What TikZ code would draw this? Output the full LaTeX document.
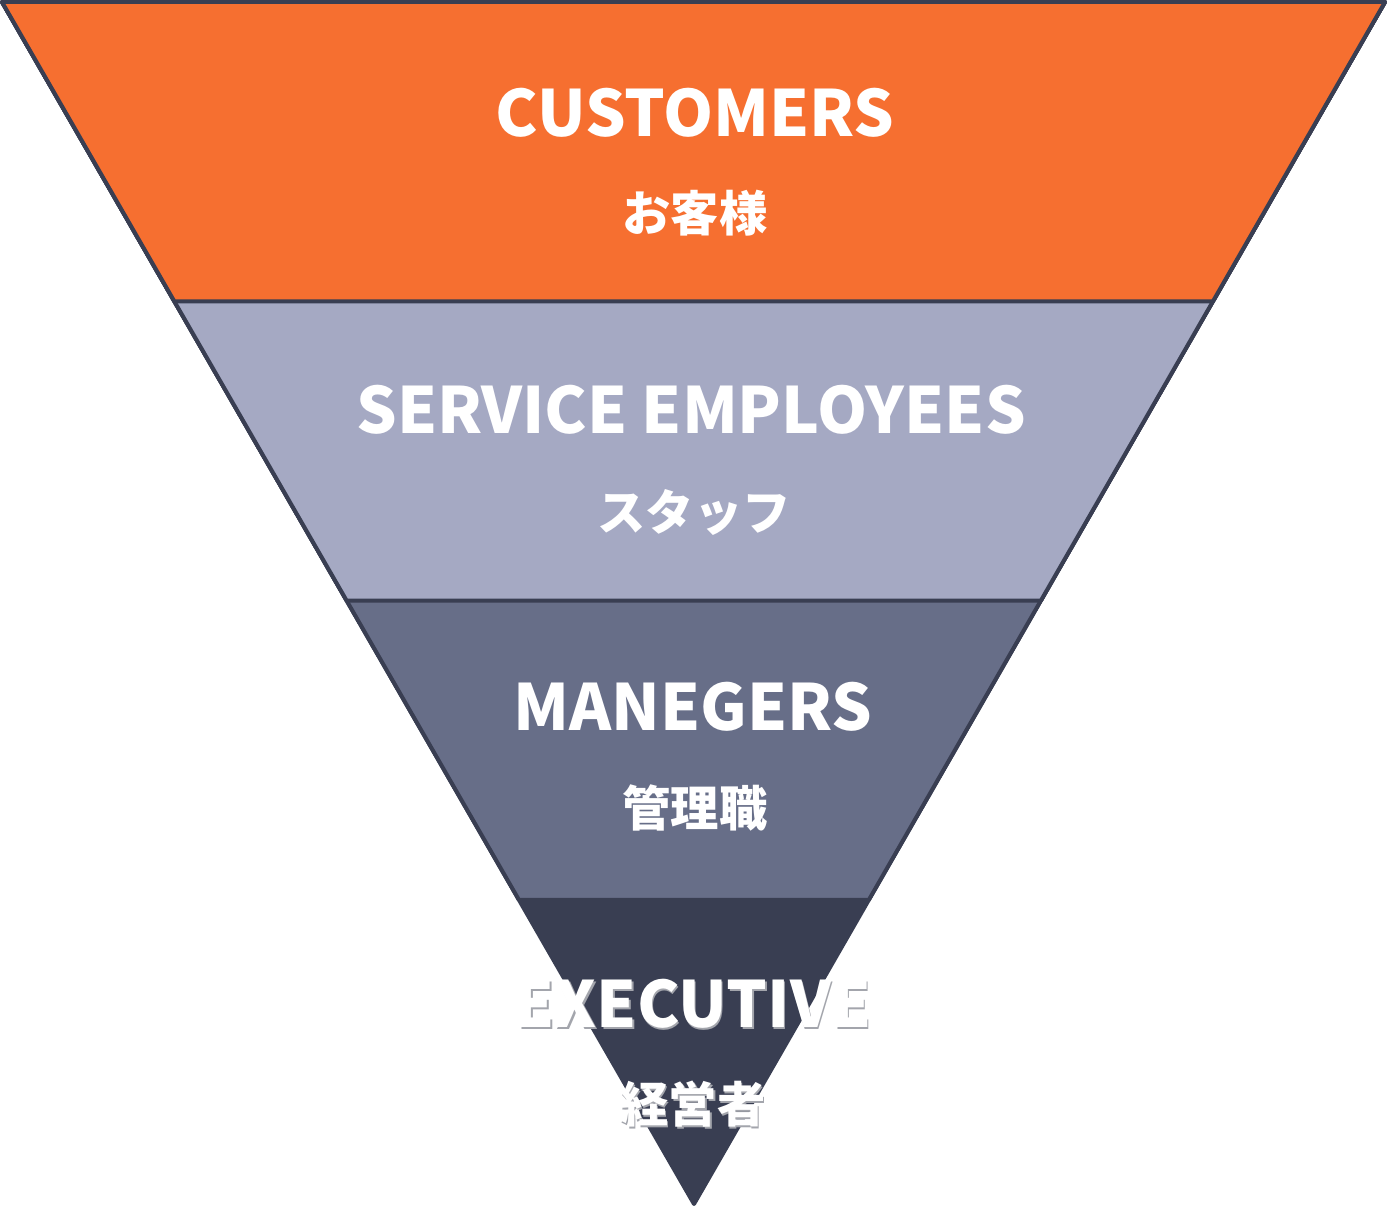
\documentclass[tikz,border=0pt]{standalone}
\usepackage{fontspec}
\setmainfont{Noto Sans CJK JP}
\usetikzlibrary{calc}
\definecolor{custorange}{HTML}{F66F30}
\definecolor{staffgray}{HTML}{A5A9C3}
\definecolor{mangray}{HTML}{676E88}
\definecolor{execdark}{HTML}{393E52}
\definecolor{shadowgray}{HTML}{A3A5AC}
\newcommand{\dropshadow}[1]{\makebox[0pt][l]{\hspace{0.7pt}\raisebox{-1.3pt}{\textcolor{shadowgray}{#1}}}#1}
\tikzstyle{layer} = [draw=execdark, line width=0.08cm, line join=round]
\tikzstyle{title} = [text=white, inner sep=0pt, font=\fontsize{36.3}{36}\selectfont\bfseries]
\tikzstyle{sub} = [text=white, inner sep=0pt, font=\fontsize{27.5}{28}\selectfont\bfseries]

\begin{document}
\begin{tikzpicture}[x=0.02cm, y=-0.02cm]
        % Bounding box
        \useasboundingbox (0,0) rectangle (1387,1206);

        % Corners
        \coordinate (tl)   at (2,2);
        \coordinate (tr)   at (1385,2);
        \coordinate (apex) at (694,1204);

        % Layer borders
        \coordinate (l1) at ($(tl)!0.249!(apex)$);
        \coordinate (r1) at ($(tr)!0.249!(apex)$);
        \coordinate (l2) at ($(tl)!0.498!(apex)$);
        \coordinate (r2) at ($(tr)!0.498!(apex)$);
        \coordinate (l3) at ($(tl)!0.747!(apex)$);
        \coordinate (r3) at ($(tr)!0.747!(apex)$);

        % Layers, bottom first
        \filldraw[layer, fill=execdark]   (tl) -- (tr) -- (apex) -- cycle;
        \filldraw[layer, fill=mangray]    (tl) -- (tr) -- (r3) -- (l3) -- cycle;
        \filldraw[layer, fill=staffgray]  (tl) -- (tr) -- (r2) -- (l2) -- cycle;
        \filldraw[layer, fill=custorange] (tl) -- (tr) -- (r1) -- (l1) -- cycle;

        % Labels
        \node[title] (cust)    at (695,113)  {CUSTOMERS};
        \node[sub]   (custjp)  at (695,213)  {お客様};
        \node[title] (staff)   at (691,410)  {SERVICE EMPLOYEES};
        \node[sub]   (staffjp) at (694,512)  {スタッフ};
        \node[title] (man)     at (693,707)  {MANEGERS};
        \node[sub]   (manjp)   at (695,808)  {管理職};
        \node[title] (exec)    at (693,1005) {\dropshadow{EXECUTIVE}};
        \node[sub]   (execjp)  at (693,1105) {\dropshadow{経営者}};

\end{tikzpicture}
\end{document}
